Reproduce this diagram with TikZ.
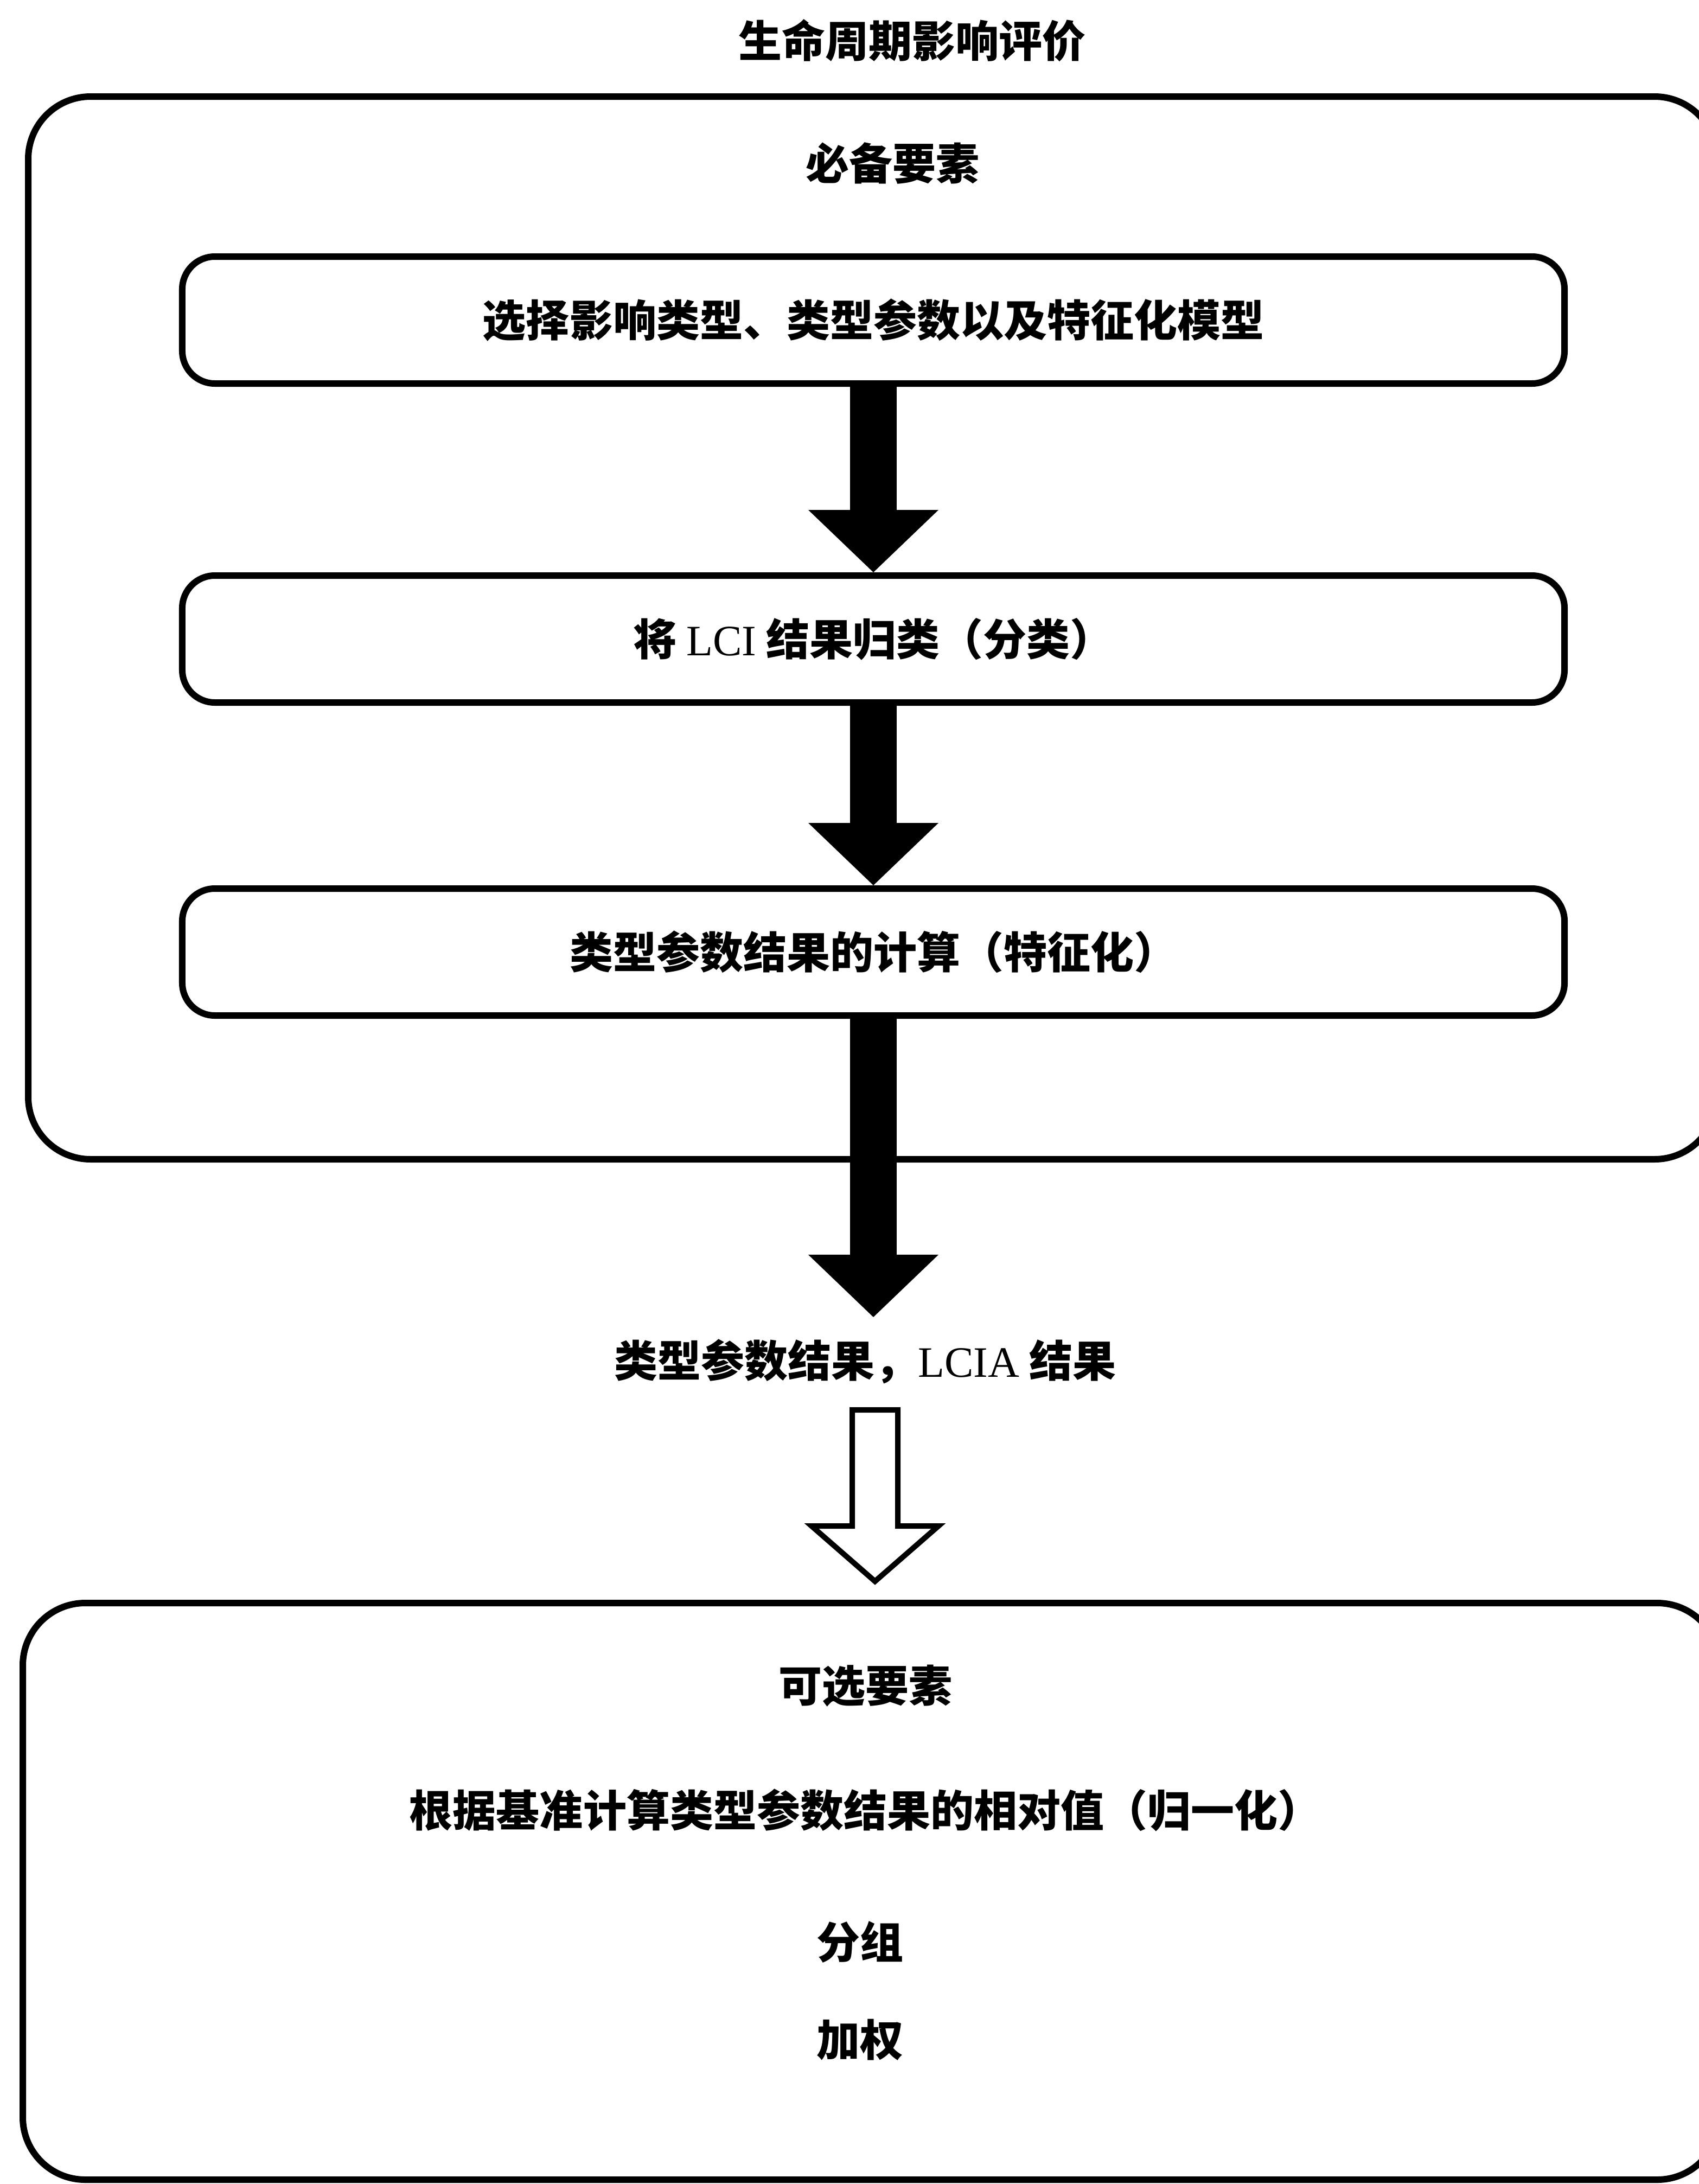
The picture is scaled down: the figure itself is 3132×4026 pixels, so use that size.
\documentclass[tikz,border=0pt]{standalone}
\usepackage{fontspec}
\setmainfont{Noto Sans CJK SC}
\newfontfamily\latinfont{Liberation Serif}
\usetikzlibrary{arrows.meta,calc}

\tikzset{
  txt/.style={inner sep=0pt, font=\fontsize{16pt}{19pt}\selectfont\bfseries},
  stepbox/.style={txt, draw, line width=2.4pt, rounded corners=12pt, minimum width=509.6pt, minimum height=46.8pt},
  framebox/.style={draw, line width=2.4pt, rounded corners=23pt},
  blockarrow/.style={line width=17.2pt, -{Triangle[width=48pt,length=23pt,line width=0pt]}},
  hollowarrow/.style={draw, line width=2pt, fill=white, line join=miter},
}
\newcommand{\lat}[1]{{\latinfont\mdseries #1}}

\begin{document}
\begin{tikzpicture}[x=0.2pt,y=0.2pt,yscale=-1,xscale=1]
\useasboundingbox (0,0) rectangle (3132,4026);
\clip (0,0) rectangle (3132,4026);

% Text Node
\node[txt] (title) at (1681,75) {生命周期影响评价};

%Shape: Rounded Rect [required part]
\draw[framebox] (52,178) rectangle (3165,2137);
% Text Node
\node[txt] (must) at (1645,301) {必备要素};

% Step boxes
\node[stepbox] (select) at (1610,590) {选择影响类型、类型参数以及特征化模型};
\node[stepbox] (classify) at (1610,1178) {将 \lat{LCI} 结果归类（分类）};
\node[stepbox] (charact) at (1610,1755) {类型参数结果的计算（特征化）};

% Text Node
\node[txt, inner sep=8pt] (result) at (1595,2510) {类型参数结果，\lat{LCIA} 结果};

%Block Arrows
\draw[blockarrow] (select) -- (classify);
\draw[blockarrow] (classify) -- (charact);
\draw[blockarrow] (charact.south) -- (charact.south |- result.north);

%Shape: Hollow Arrow
\coordinate (htop) at (1613,2599);
\coordinate (htip) at (1613,2915);
\draw[hollowarrow] ($(htop)+(-42,0)$) -- ($(htop)+(42,0)$) -- ($(htip)+(42,-102)$) -- ($(htip)+(117,-102)$) -- (htip) -- ($(htip)+(-117,-102)$) -- ($(htip)+(-42,-102)$) -- cycle;

%Shape: Rounded Rect [optional part]
\draw[framebox] (42,2955) rectangle (3170,4018);
% Text Nodes
\node[txt] (optional) at (1595,3108) {可选要素};
\node[txt] (normal) at (1595,3337) {根据基准计算类型参数结果的相对值（归一化）};
\node[txt] (group) at (1585,3580) {分组};
\node[txt] (weight) at (1585,3760) {加权};

\end{tikzpicture}
\end{document}
